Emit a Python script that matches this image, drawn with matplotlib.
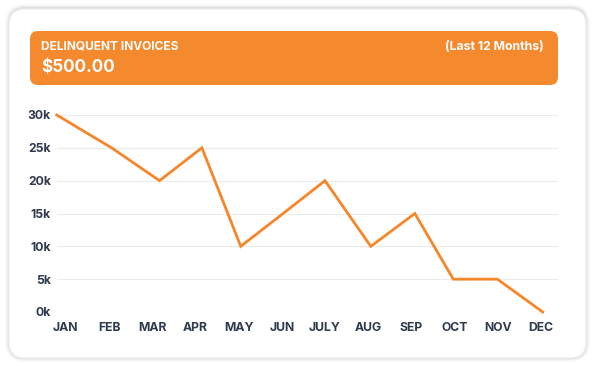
import matplotlib
matplotlib.use("Agg")
import matplotlib.pyplot as plt
from matplotlib.patches import FancyBboxPatch

months = ["JAN", "FEB", "MAR", "APR", "MAY", "JUN", "JULY", "AUG", "SEP", "OCT", "NOV", "DEC"]
# horizontal position of each point, in month units
point_pos = [-0.21, 1.06, 2.17, 3.15, 4.05, 5.03, 6.0, 7.06, 8.08, 8.97, 9.99, 11.04]
values = [30000, 25000, 20000, 25000, 10000, 15000, 20000, 10000, 15000, 5000, 5000, 0]
yticks = [0, 5000, 10000, 15000, 20000, 25000, 30000]
ytick_labels = ["0k", "5k", "10k", "15k", "20k", "25k", "30k"]

title = "DELINQUENT INVOICES"
amount = "$500.00"
period = "(Last 12 Months)"

W, H = 595, 366
plt.rcParams['font.family'] = ['Inter', 'DejaVu Sans']
fig = plt.figure(figsize=(W / 100, H / 100), dpi=100)
fig.patch.set_facecolor("white")

def fx(px):
    return px / W

def fy(py):
    return 1 - py / H

# card shadow
for i, a in enumerate([0.05, 0.035, 0.025, 0.015]):
    d = i + 1
    sh = FancyBboxPatch((fx(9 - d), fy(358 + d)), fx(577 + 2 * d), (350 + 2 * d) / H,
                        boxstyle=f"round,pad=0,rounding_size={(16 + d) / W}",
                        transform=fig.transFigure, facecolor="black", alpha=a,
                        edgecolor="none", zorder=0, mutation_aspect=W / H)
    fig.patches.append(sh)
card = FancyBboxPatch((fx(9), fy(358)), fx(577), 349 / H,
                      boxstyle=f"round,pad=0,rounding_size={16 / W}",
                      transform=fig.transFigure, facecolor="white",
                      edgecolor="#eeeeee", linewidth=0.8, zorder=1, mutation_aspect=W / H)
fig.patches.append(card)

header = FancyBboxPatch((fx(30), fy(85)), fx(528), 54 / H,
                        boxstyle=f"round,pad=0,rounding_size={8 / W}",
                        transform=fig.transFigure, facecolor="#F5892E",
                        edgecolor="none", zorder=2, mutation_aspect=W / H)
fig.patches.append(header)

fig.text(fx(41), fy(47), title, color="white", fontsize=8.6, fontweight="bold",
         ha="left", va="center", zorder=3)
fig.text(fx(41), fy(67), amount, color="white", fontsize=12.3, fontweight="bold",
         ha="left", va="center", zorder=3)
fig.text(fx(544), fy(47), period, color="white", fontsize=8.8, fontweight="bold",
         ha="right", va="center", zorder=3)

# plot area
x0, x1 = 57, 558
y_top, y_bot = 115, 312
first_label, step = 65.8, 43.2
ax = fig.add_axes([fx(x0), fy(y_bot), (x1 - x0) / W, (y_bot - y_top) / H])
ax.set_zorder(4)
ax.patch.set_alpha(0)
ax.plot(point_pos, values, color="#F5862A", linewidth=2, clip_on=False,
        solid_joinstyle="miter", zorder=3)
ax.set_xlim((x0 - first_label) / step, (x1 - first_label) / step)
ax.set_ylim(0, 30000)
ax.set_yticks(yticks)
ax.set_yticklabels(ytick_labels)
ax.set_xticks(range(len(months)))
ax.set_xticklabels(months)
ax.grid(axis="y", color="#ebebeb", linewidth=0.8)
ax.set_axisbelow(True)
for s in ax.spines.values():
    s.set_visible(False)
ax.tick_params(length=0, labelsize=8.8, labelcolor="#2f3a4d")
ax.tick_params(axis="y", pad=4.5)
ax.tick_params(axis="x", pad=7.5)
for lab in ax.get_xticklabels() + ax.get_yticklabels():
    lab.set_fontweight("bold")

fig.savefig("out.png", dpi=100)
